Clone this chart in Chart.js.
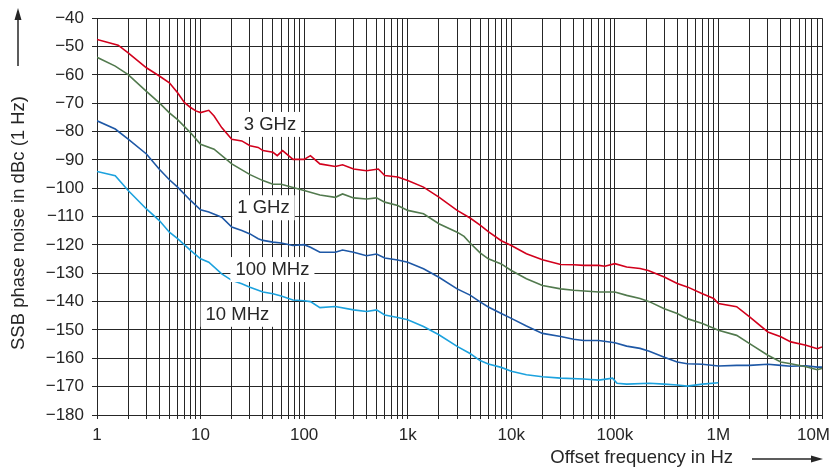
<!DOCTYPE html>
<html>
<head>
<meta charset="utf-8">
<script src="https://cdn.jsdelivr.net/npm/chart.js@4.4.1/dist/chart.umd.min.js"></script>
<style>
	html, body { margin: 0; padding: 0; background: #fff; }
	#wrap { width: 832px; height: 476px; }
</style>
</head>
<body>
<div id="wrap"><canvas id="chart" width="832" height="476"></canvas></div>
<script>
// offset frequency (Hz) and SSB phase noise (dBc/Hz)
const freq3G = [1, 1.6, 2, 3, 4, 5, 6, 7, 8, 9, 10, 12, 13.5, 16, 20, 25, 30, 36, 40, 50, 55, 62, 78, 100, 115, 142, 200, 235, 300, 400, 520, 600, 800, 1e3, 1.42e3, 2e3, 3e3, 4e3, 5e3, 6e3, 8e3, 1e4, 1.4e4, 2e4, 3e4, 4e4, 5e4, 7e4, 8e4, 1e5, 1.3e5, 1.75e5, 2.1e5, 3e5, 4e5, 5e5, 7e5, 9e5, 1e6, 1.5e6, 2e6, 3e6, 4e6, 5e6, 7e6, 9e6, 1e7];
const noise3G = [-47.5, -49.5, -52.2, -57.5, -60.4, -62.8, -66.3, -69.8, -71.5, -72.7, -73.3, -72.5, -74.5, -78.6, -82.7, -83.3, -85, -85.6, -86.7, -87.3, -88.5, -86.7, -89.8, -89.8, -88.5, -91.4, -92.3, -91.7, -93.2, -93.8, -93.2, -95.5, -96, -97.3, -99.6, -103.1, -107.8, -110.5, -113, -115.3, -118.5, -120.2, -123.1, -125.2, -126.9, -127, -127.2, -127.2, -127.5, -126.6, -127.8, -128.3, -129, -131.3, -133.6, -134.8, -137.2, -138.9, -140.7, -141.8, -145.4, -150.7, -152.4, -154.2, -155.4, -156.6, -156];

const freq1G = [1, 1.5, 2, 3, 4, 5, 6, 8, 10, 13.5, 20, 30, 40, 50, 60, 100, 142, 200, 235, 300, 400, 500, 600, 800, 1e3, 1.42e3, 2e3, 3e3, 3.5e3, 4e3, 5e3, 6e3, 8e3, 1e4, 1.4e4, 2e4, 3e4, 4e4, 7e4, 1e5, 1.3e5, 1.75e5, 2.15e5, 3e5, 4e5, 5e5, 7e5, 1e6, 1.5e6, 2e6, 3e6, 4e6, 5e6, 7e6, 9e6, 1e7];
const noise1G = [-53.8, -56.9, -59.9, -65.8, -69.9, -73.4, -75.8, -80.4, -84.5, -86.2, -91.4, -95.2, -97.3, -98.6, -98.6, -100.8, -102.4, -103.2, -102, -103.4, -103.8, -103.4, -104.9, -106.1, -107.8, -109, -112.5, -115.5, -117, -119.3, -122.8, -124.9, -126.7, -129, -131.9, -134.3, -135.5, -136, -136.6, -136.6, -137.8, -138.9, -140, -142.5, -144.2, -146, -147.7, -150.1, -151.9, -154.8, -158.9, -161.3, -161.9, -163, -164, -163.6];

const freq100M = [1, 1.5, 2, 3, 4, 5, 6, 8, 10, 12, 16, 20, 25, 30, 36, 40, 50, 60, 78, 100, 115, 142, 200, 235, 300, 400, 500, 600, 800, 1e3, 1.42e3, 2e3, 3e3, 4e3, 5e3, 6e3, 8e3, 1e4, 1.4e4, 2e4, 3e4, 4e4, 5e4, 7e4, 1e5, 1.3e5, 1.75e5, 2.15e5, 3e5, 4e5, 5e5, 7e5, 1e6, 1.5e6, 2e6, 3e6, 4e6, 5e6, 7e6, 9e6, 1e7];
const noise100M = [-76.2, -79.1, -82.7, -87.9, -93.3, -97, -99.6, -104.3, -107.6, -108.4, -110.2, -113.7, -114.9, -116.1, -117.8, -118.4, -119, -119.3, -120.2, -119.9, -120.8, -122.6, -122.6, -121.8, -122.6, -123.8, -123.2, -124.6, -125.3, -126.1, -128.4, -131.4, -135.5, -137.7, -140.1, -141.9, -144.2, -145.9, -148.6, -151.2, -152.3, -153.3, -153.7, -153.7, -154.5, -155.7, -156.5, -157.5, -159.6, -161.3, -161.9, -162.1, -162.7, -162.5, -162.5, -162.1, -162.5, -162.8, -162.6, -163.1, -163.1];

const freq10M = [1, 1.5, 2, 3, 4, 5, 6, 8, 10, 12, 16, 20, 25, 30, 40, 50, 60, 78, 100, 115, 142, 200, 300, 400, 500, 600, 800, 1e3, 1.42e3, 2e3, 3e3, 4e3, 5e3, 6e3, 8e3, 1e4, 1.4e4, 2e4, 3e4, 5e4, 7e4, 9.5e4, 1.05e5, 1.3e5, 2.15e5, 3e5, 4e5, 5e5, 7e5, 1e6];
const noise10M = [-94.1, -95.6, -100.8, -107.3, -111.4, -115.5, -117.8, -121.9, -124.9, -126.1, -130.2, -132.5, -133.7, -134.9, -136.6, -137.2, -138, -139.4, -139.7, -140, -142.1, -141.7, -142.9, -143.5, -142.9, -144.7, -145.6, -146.4, -148.8, -151.7, -155.8, -158.3, -160.8, -162, -163.2, -164.6, -165.8, -166.5, -167, -167.3, -167.7, -167, -168.8, -169.1, -168.8, -169.1, -169.4, -169.8, -169.1, -168.6];

const xDecades = [1, 10, 100, 1e3, 1e4, 1e5, 1e6, 1e7];
const xTickLabels = ['1', '10', '100', '1k', '10k', '100k', '1M', '10M'];

// carrier labels, anchored in data units (Hz, dBc)
const carrierNames = ['3 GHz', '1 GHz', '100 MHz', '10 MHz'];
const labelFreqs = [46.8, 40.5, 49.4, 22.7];
const labelLevels = [-77.3, -106.7, -128.5, -144.3];

const FONT = '"Liberation Sans", Arial, Helvetica, sans-serif';
const INK = '#262626';

function zip(xs, ys) {
	return xs.map((x, i) => ({ x: x, y: ys[i] }));
}

function minusLabel(v) {
	return v < 0 ? '\u2212' + Math.abs(v) : String(v);
}

function logGrid() {
	const values = [];
	for (let d = 0; d < xDecades.length - 1; d++) {
		for (let m = 1; m < 10; m++) values.push(xDecades[d] * m);
	}
	values.push(xDecades[xDecades.length - 1]);
	return values.map((v) => ({ value: v }));
}

function arrow(ctx, x1, y1, x2, y2) {
	const ang = Math.atan2(y2 - y1, x2 - x1);
	const len = 12, half = 3.5;
	ctx.beginPath();
	ctx.moveTo(x1, y1);
	ctx.lineTo(x2 - len * Math.cos(ang), y2 - len * Math.sin(ang));
	ctx.lineWidth = 1.5;
	ctx.stroke();
	ctx.beginPath();
	ctx.moveTo(x2, y2);
	ctx.lineTo(x2 - len * Math.cos(ang) + half * Math.sin(ang), y2 - len * Math.sin(ang) - half * Math.cos(ang));
	ctx.lineTo(x2 - len * Math.cos(ang) - half * Math.sin(ang), y2 - len * Math.sin(ang) + half * Math.cos(ang));
	ctx.closePath();
	ctx.fill();
}

const decorPlugin = {
	id: 'decor',
	afterDraw(chart) {
		const { ctx, scales } = chart;
		const xs = scales.x, ys = scales.y;
		ctx.save();
		ctx.fillStyle = INK;
		ctx.strokeStyle = INK;

		// x tick labels
		ctx.font = '17px ' + FONT;
		ctx.textAlign = 'center';
		ctx.textBaseline = 'alphabetic';
		xDecades.forEach((v, i) => {
			const w = ctx.measureText(xTickLabels[i]).width;
			let px = xs.getPixelForValue(v);
			px = Math.min(px, chart.width - w / 2 - 2);
			ctx.fillText(xTickLabels[i], px, 440);
		});

		// axis titles
		ctx.font = '18.5px ' + FONT;
		ctx.textAlign = 'right';
		ctx.fillText('Offset frequency in Hz', 733, 463);
		arrow(ctx, 752, 459, 823, 459);

		ctx.save();
		ctx.translate(19, 350);
		ctx.rotate(-Math.PI / 2);
		ctx.textAlign = 'left';
		ctx.textBaseline = 'middle';
		ctx.fillText('SSB phase noise in dBc (1 Hz)', 0, 0);
		ctx.restore();
		arrow(ctx, 18, 66, 18, 8);

		// carrier labels on white boxes
		ctx.textAlign = 'center';
		ctx.textBaseline = 'middle';
		carrierNames.forEach((name, i) => {
			const cx = xs.getPixelForValue(labelFreqs[i]);
			const cy = ys.getPixelForValue(labelLevels[i]);
			const w = ctx.measureText(name).width + 10;
			ctx.fillStyle = '#fff';
			ctx.fillRect(cx - w / 2, cy - 12, w, 25);
			ctx.fillStyle = INK;
			ctx.fillText(name, cx, cy + 1);
		});
		ctx.restore();
	},
};

function createChart() {
	const ctx = document.getElementById('chart').getContext('2d');
	const series = [
		{ data: zip(freq3G, noise3G), color: '#d2001c' },
		{ data: zip(freq1G, noise1G), color: '#527a4e' },
		{ data: zip(freq100M, noise100M), color: '#1e58a6' },
		{ data: zip(freq10M, noise10M), color: '#1ca2de' },
	];
	new Chart(ctx, {
		type: 'line',
		data: {
			datasets: series.map((s, i) => ({
				label: carrierNames[i],
				data: s.data,
				borderColor: s.color,
				borderWidth: 1.6,
				pointRadius: 0,
				tension: 0,
				fill: false,
			})),
		},
		options: {
			responsive: false,
			animation: false,
			layout: { padding: { top: 17, right: 10, left: 0, bottom: 0 } },
			plugins: { legend: { display: false }, tooltip: { enabled: false } },
			scales: {
				x: {
					type: 'logarithmic',
					min: 1,
					max: 1e7,
					afterBuildTicks: (scale) => { scale.ticks = logGrid(); },
					afterFit: (scale) => {
						scale.height = 61;
						scale.paddingLeft = 0;
						scale.paddingRight = 0;
					},
					grid: { color: INK, lineWidth: 1, tickLength: 4, drawTicks: true },
					border: { color: INK, width: 1 },
					ticks: { autoSkip: false, maxRotation: 0, callback: () => '' },
				},
				y: {
					min: -180,
					max: -40,
					afterFit: (scale) => { scale.width = 97; },
					grid: { color: INK, lineWidth: 1, tickLength: 5, drawTicks: true },
					border: { color: INK, width: 1 },
					ticks: {
						stepSize: 10,
						padding: 8,
						color: INK,
						font: { family: FONT, size: 17 },
						callback: (v) => minusLabel(v),
					},
				},
			},
		},
		plugins: [decorPlugin],
	});
}

document.addEventListener('DOMContentLoaded', createChart);
</script>
</body>
</html>
